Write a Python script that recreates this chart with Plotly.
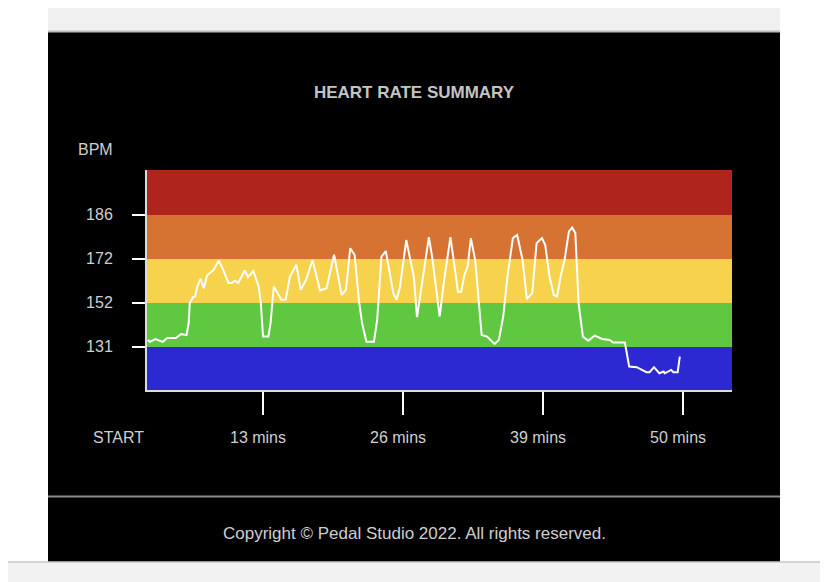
import numpy as np
import plotly.graph_objects as go

# heart rate samples (minutes from start, bpm)
TIME_MIN = [
    2.3, 2.5, 3.0, 3.3, 3.7, 4.1, 4.9, 5.4, 5.9, 6.1,
    6.2, 6.5, 6.7, 6.9, 7.2, 7.5, 7.8, 8.4, 8.9, 9.3,
    9.8, 10.1, 10.4, 10.7, 11.3, 11.6, 12.1, 12.6, 12.8, 13.0,
    13.5, 13.7, 14.0, 14.7, 15.1, 15.5, 16.1, 16.5, 17.0, 17.6,
    18.3, 18.9, 19.6, 20.3, 20.7, 21.1, 21.5, 21.9, 22.2, 22.6,
    23.3, 23.6, 24.0, 24.4, 25.1, 25.4, 25.7, 26.3, 26.6, 27.0,
    27.3, 27.7, 28.4, 28.7, 29.4, 29.8, 30.4, 30.7, 31.1, 31.4,
    31.7, 32.0, 32.3, 32.7, 33.1, 33.3, 33.8, 34.5, 34.9, 35.3,
    35.7, 36.2, 36.6, 37.1, 37.5, 38.0, 38.4, 38.9, 39.2, 39.6,
    40.0, 40.3, 40.7, 41.0, 41.4, 41.7, 42.0, 42.3, 42.7, 43.2,
    43.8, 44.5, 45.2, 45.5, 46.6, 46.8, 47.0, 47.7, 48.6, 48.9,
    49.3, 49.8, 50.2, 50.3, 50.9, 51.1, 51.5, 51.7,
]
HEART_RATE = [
    134.3, 133.4, 134.7, 134.2, 133.4, 135.2, 135.2, 137.1, 136.6, 142.3,
    151.9, 154.6, 154.9, 159.4, 162.9, 158.7, 164.4, 167.0, 171.2, 167.0,
    161.0, 161.0, 162.1, 161.0, 166.7, 163.7, 166.5, 159.4, 151.9, 135.9,
    135.9, 142.3, 159.4, 153.4, 153.4, 164.0, 169.3, 157.9, 162.5, 171.5,
    157.6, 158.7, 173.3, 155.6, 157.9, 175.4, 173.3, 153.4, 142.3, 133.5,
    133.5, 143.9, 172.7, 174.5, 156.4, 153.4, 158.7, 178.0, 172.7, 164.0,
    145.2, 159.4, 178.9, 172.7, 145.5, 161.7, 178.9, 171.5, 157.1, 157.1,
    164.7, 168.5, 178.6, 171.5, 151.0, 136.7, 135.9, 132.4, 134.3, 145.5,
    164.0, 178.6, 179.6, 171.5, 153.7, 156.4, 177.0, 178.6, 176.5, 164.0,
    155.6, 154.9, 165.5, 171.5, 180.7, 182.0, 180.2, 151.9, 135.9, 133.9,
    136.4, 134.8, 134.3, 133.1, 133.1, 126.4, 121.6, 121.3, 118.9, 118.9,
    121.3, 118.4, 119.2, 118.4, 120.0, 118.9, 118.9, 126.4,
]

# zone thresholds (bpm) shown on the y axis
ZONE_BPM = [131, 152, 172, 186]
ZONE_COLORS = ["#2c28d2", "#5fc840", "#f7d24c", "#d67332", "#b0241e"]

X_TICKS = [13, 26, 39, 52]
X_LABELS = ["13 mins", "26 mins", "39 mins", "50 mins"]

# chart draws each zone as an equal-height band
SCALE_BPM = [110] + ZONE_BPM + [200]
SCALE_Z = list(range(len(SCALE_BPM)))


def to_zone(bpm):
    return np.interp(bpm, SCALE_BPM, SCALE_Z)


# the page body has an 8px margin, so the figure sits at (8, 8)
OFF = 8
W, H = 828 - OFF, 582 - OFF
# plot area in page pixels
L, R, T, B = 147, 732, 170, 390


def px(x):
    return (x - L) / (R - L)


def py(y):
    return (B - y) / (B - T)


LABEL = "#cfcfcf"
FONT = "Liberation Sans, Arial, sans-serif"

fig = go.Figure()
fig.add_trace(go.Scatter(
    x=TIME_MIN, y=to_zone(HEART_RATE), mode="lines",
    line=dict(color="white", width=2), hoverinfo="skip", showlegend=False,
))

shapes = [
    # page chrome
    dict(type="rect", xref="paper", yref="paper", x0=px(48), x1=px(780),
         y0=py(0), y1=py(31), fillcolor="#f0f0f0", line_width=0, layer="below"),
    dict(type="rect", xref="paper", yref="paper", x0=px(48), x1=px(780),
         y0=py(32), y1=py(562), fillcolor="black", line_width=0, layer="below"),
    dict(type="line", xref="paper", yref="paper", x0=px(48), x1=px(780),
         y0=py(31.5), y1=py(31.5), line=dict(color="#bdbdbd", width=2), layer="below"),
    dict(type="line", xref="paper", yref="paper", x0=px(48), x1=px(780),
         y0=py(496.5), y1=py(496.5), line=dict(color="#8c8c8c", width=2), layer="below"),
    dict(type="rect", xref="paper", yref="paper", x0=px(0), x1=px(840),
         y0=py(562), y1=py(600), fillcolor="#f2f2f2", line_width=0, layer="below"),
    dict(type="line", xref="paper", yref="paper", x0=px(0), x1=px(840),
         y0=py(562), y1=py(562), line=dict(color="#c8c8c8", width=1.5), layer="below"),
]

y_lo, y_hi = 0.02, 5.02
edges = [y_lo] + list(to_zone(ZONE_BPM)) + [y_hi]
for i, color in enumerate(ZONE_COLORS):
    shapes.append(dict(type="rect", xref="x domain", yref="y", x0=0, x1=1,
                       y0=edges[i], y1=edges[i + 1], fillcolor=color,
                       line_width=0, layer="below"))

fig.update_layout(
    width=W, height=H,
    margin=dict(l=L - OFF, r=828 - R, t=T - OFF, b=582 - B, pad=0),
    paper_bgcolor="white", plot_bgcolor="black",
    font=dict(family=FONT, size=16, color=LABEL),
    title=dict(text="<b>HEART RATE SUMMARY</b>", x=(414 - OFF) / W, xanchor="center",
               xref="container", y=1 - (92 - OFF) / H, yanchor="middle", yref="container",
               font=dict(size=17, color="#c4c4c4", family=FONT)),
    shapes=shapes,
    annotations=[
        dict(text="BPM", xref="paper", yref="paper", x=px(95.5), y=py(149),
             showarrow=False, xanchor="center", yanchor="middle",
             font=dict(size=16, color=LABEL)),
        dict(text="START", xref="paper", yref="paper", x=px(118), y=py(437),
             showarrow=False, xanchor="center", yanchor="middle",
             font=dict(size=16, color=LABEL)),
        dict(text="Copyright © Pedal Studio 2022. All rights reserved.",
             xref="paper", yref="paper", x=px(414), y=py(533),
             showarrow=False, xanchor="center", yanchor="middle",
             font=dict(size=17, color=LABEL)),
    ],
    xaxis=dict(
        range=[(L - 123) / 10.77, (R - 123) / 10.77],
        tickvals=X_TICKS, ticktext=X_LABELS,
        ticks="outside", ticklen=23, tickwidth=2, tickcolor="white",
        ticklabelstandoff=9, ticklabelshift=-5,
        showline=True, linecolor="#dcdcdc", linewidth=2,
        showgrid=False, zeroline=False, fixedrange=True,
    ),
    yaxis=dict(
        range=[y_lo, y_hi],
        tickvals=list(to_zone(ZONE_BPM)), ticktext=[str(v) for v in ZONE_BPM],
        ticks="outside", ticklen=13, tickwidth=2, tickcolor="white",
        ticklabelstandoff=16,
        showline=True, linecolor="#dcdcdc", linewidth=2,
        showgrid=False, zeroline=False, fixedrange=True,
    ),
)

fig.write_html("out.html")
